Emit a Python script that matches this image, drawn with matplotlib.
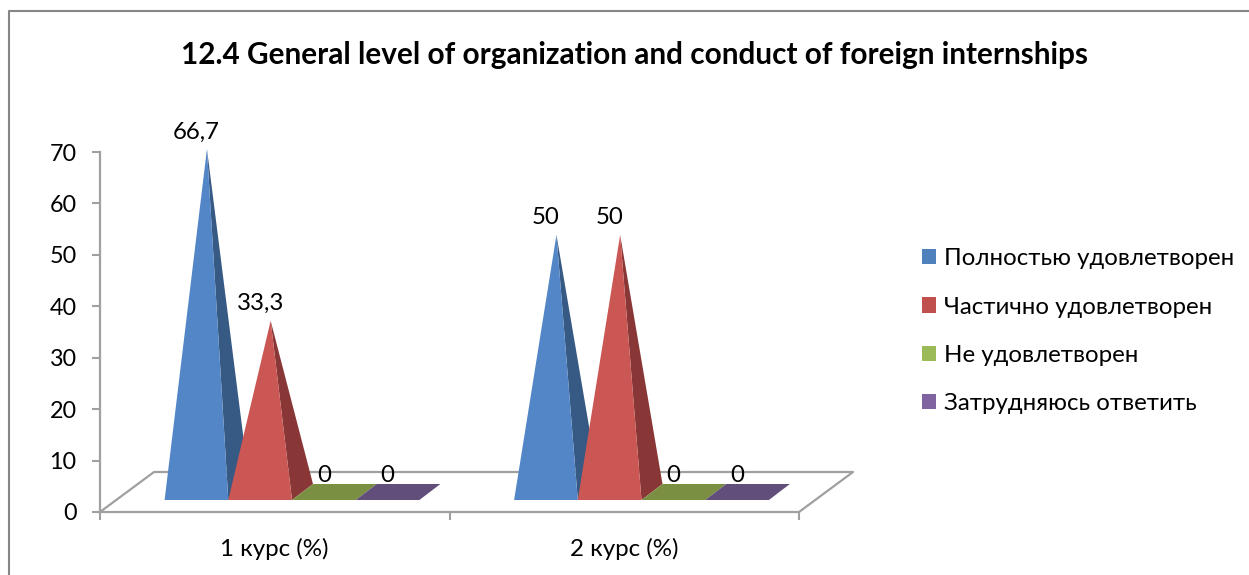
import matplotlib.pyplot as plt
from matplotlib.lines import Line2D
from matplotlib.patches import Patch, Polygon

plt.rcParams['font.family'] = ['Lato', 'Open Sans', 'DejaVu Sans']

# Data
title = "12.4 General level of organization and conduct of foreign internships"
courses = ["1 курс (%)", "2 курс (%)"]
series_names = ["Полностью удовлетворен", "Частично удовлетворен",
                "Не удовлетворен", "Затрудняюсь ответить"]
series_values = [
    [66.7, 50],
    [33.3, 50],
    [0, 0],
    [0, 0],
]
value_labels = [
    ["66,7", "50"],
    ["33,3", "50"],
    ["0", "0"],
    ["0", "0"],
]
y_ticks = [0, 10, 20, 30, 40, 50, 60, 70]

# Colours
legend_colors = ["#4F81BD", "#C0504D", "#9BBB59", "#8064A2"]
front_colors = ["#5386C6", "#CB5754", "#7A8F42", "#624E7A"]
side_colors = ["#375A85", "#893736", "#7A8F42", "#624E7A"]
axis_color = "#A0A0A0"

W, H = 1249, 575
fig = plt.figure(figsize=(W / 100, H / 100), dpi=100)
ax = fig.add_axes([100 / W, 1 - 512 / H, 699 / W, 360 / H])
ax.set_xlim(0, 2)
ax.set_ylim(0, 70)

# Pseudo-3D geometry, in axis units
px_x = 2 / 699
px_y = 70 / 360
bar_w = 63.7 * px_x
group_start = 64.6 * px_x
base_y = 12 * px_y
depth_x = 21 * px_x
depth_y = 16 * px_y
floor_dx = 54 * px_x
floor_dy = 40 * px_y

# Floor
floor_kw = dict(color=axis_color, lw=1.6, clip_on=False, zorder=1)
ax.plot([0, floor_dx, 2 + floor_dx, 2], [0, floor_dy, floor_dy, 0], **floor_kw)

# Bars
for g in range(len(courses)):
    for s in range(len(series_names)):
        val = series_values[s][g]
        x0 = g + group_start + s * bar_w
        x1 = x0 + bar_w
        xc = x0 + bar_w / 2
        apex = (xc + depth_x / 2, base_y + depth_y / 2 + val)
        z = 3 + s
        if val == 0:
            ax.add_patch(Polygon([(x0, base_y), (x1, base_y),
                                  (x1 + depth_x, base_y + depth_y),
                                  (x0 + depth_x, base_y + depth_y)],
                                 closed=True, fc=front_colors[s], ec="none",
                                 clip_on=False, zorder=z))
        else:
            ax.add_patch(Polygon([apex, (x1, base_y),
                                  (x1 + depth_x, base_y + depth_y)],
                                 closed=True, fc=side_colors[s], ec="none",
                                 clip_on=False, zorder=z))
            ax.add_patch(Polygon([apex, (x0, base_y), (x1, base_y)],
                                 closed=True, fc=front_colors[s], ec="none",
                                 clip_on=False, zorder=z + 0.5))
        ax.text(xc, apex[1] + 17 * px_y, value_labels[s][g], ha="center",
                va="center", fontsize=17.3, color="black", zorder=10)

# Axes
for side in ["top", "right"]:
    ax.spines[side].set_visible(False)
for side in ["left", "bottom"]:
    ax.spines[side].set_color(axis_color)
    ax.spines[side].set_linewidth(1.6)
ax.set_yticks(y_ticks)
ax.tick_params(axis="y", length=5.5, width=1.5, color=axis_color, labelsize=16.8, pad=11.3)
ax.set_xticks([0, 1, 2])
ax.set_xticklabels([])
ax.tick_params(axis="x", which="major", length=6, width=1.5, color=axis_color)
ax.set_xticks([0.5, 1.5], minor=True)
ax.set_xticklabels(courses, minor=True)
ax.tick_params(axis="x", which="minor", length=0, labelsize=17.4, pad=18.7)

# Title
fig.text(634.5 / W, 1 - 55 / H, title, ha="center", va="center", fontsize=21.4,
         fontweight="bold")

# Legend
handles = [Patch(fc=c, ec="none") for c in legend_colors]
fig.legend(handles, series_names, loc="upper left",
           bbox_to_anchor=(914.7 / W, 1 - 241 / H), frameon=False, fontsize=17.25,
           handlelength=0.6, handleheight=0.6, handletextpad=0.31,
           labelspacing=1.14, borderpad=0.3, borderaxespad=0)

# Chart frame, cut by the picture on the right and bottom
fig.add_artist(Line2D([9 / W, 9 / W, 1], [0, 1 - 11 / H, 1 - 11 / H],
                      color="#868686", lw=1.5))

fig.savefig("out.png", dpi=100)
